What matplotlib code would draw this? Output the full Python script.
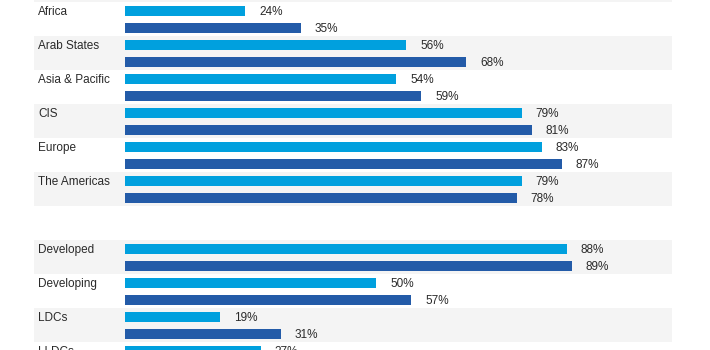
import matplotlib
matplotlib.use('Agg')
from matplotlib import pyplot as plt
import numpy as np

plt.rcParams['font.family'] = ['Liberation Sans', 'DejaVu Sans']

# rows (None = empty gap row); second LLDCs value lies below the visible crop
regions = ['Africa', 'Arab States', 'Asia & Pacific', 'CIS', 'Europe', 'The Americas',
           None, 'Developed', 'Developing', 'LDCs', 'LLDCs']
first = [24, 56, 54, 79, 83, 79, None, 88, 50, 19, 27]
second = [35, 68, 59, 81, 87, 78, None, 89, 57, 31, None]

light = '#00A0DE'
dark = '#235BA8'
txt = '#2a2a2a'

fig = plt.figure(figsize=(7.1, 3.5), dpi=100)
ax = fig.add_axes([0, 0, 1, 1])
ax.set_xlim(-125 / 5.02, (710 - 125) / 5.02)
ax.set_ylim(348 / 34, -2 / 34)
ax.axis('off')

# alternating background bands
for i in range(-1, len(regions)):
    if i == -1 or (i % 2 == 1 and regions[i] is not None):
        ax.axhspan(i, i + 1, xmin=34 / 710, xmax=672 / 710, color='#F4F4F4', lw=0, zorder=0)

hb = 10 / 34
for i, name in enumerate(regions):
    if name is None:
        continue
    y1 = i + 9 / 34
    y2 = i + 26 / 34
    ax.text(-87 / 5.02, y1 + 0.02, name, ha='left', va='center', fontsize=8.5, color=txt)
    ax.barh(y1, first[i], height=hb, left=0, color=light, zorder=2)
    ax.text(first[i] + 14 / 5.02, y1 + 0.02, '%d%%' % first[i], ha='left', va='center',
            fontsize=8.5, color=txt)
    if second[i] is not None:
        ax.barh(y2, second[i], height=hb, left=0, color=dark, zorder=2)
        ax.text(second[i] + 14 / 5.02, y2 + 0.02, '%d%%' % second[i], ha='left', va='center',
                fontsize=8.5, color=txt)

fig.savefig('out.png', dpi=100)
